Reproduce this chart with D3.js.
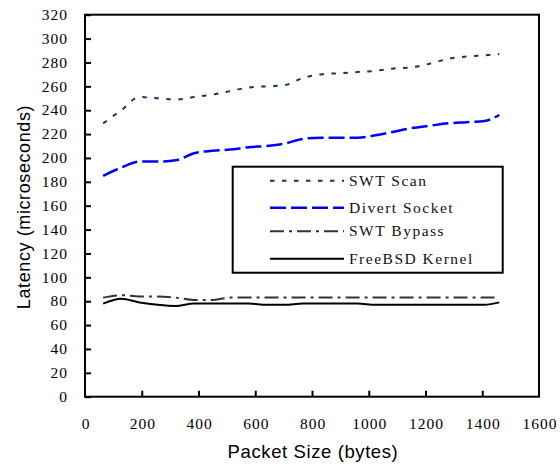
<!DOCTYPE html>
<html>
<head>
<meta charset="utf-8">
<script src="https://cdn.jsdelivr.net/npm/d3@7"></script>
<style>
  html, body { margin: 0; padding: 0; background: #fff; }
  svg { display: block; }
</style>
</head>
<body>
<div id="chart"></div>
<script>
// Packet sizes (bytes) at which latency was measured
const packetSizes = [64, 128, 192, 256, 320, 384, 448, 512, 576, 640, 704, 768,
  832, 896, 960, 1024, 1088, 1152, 1216, 1280, 1344, 1408, 1460];

const swtScan = [229, 240, 251, 250, 249, 251, 253, 256, 259, 260, 261, 267,
  270, 271, 272, 273, 275, 276, 279, 283, 285, 286, 287];
const divertSocket = [185, 192, 197, 197, 198, 204, 206, 207, 209, 210, 212, 216,
  217, 217, 217, 219, 222, 225, 227, 229, 230, 231, 236];
const swtBypass = [83, 85, 84, 84, 83, 81, 81, 83, 83, 83, 83, 83,
  83, 83, 83, 83, 83, 83, 83, 83, 83, 83, 83];
const freebsdKernel = [78, 82, 79, 77, 76, 78, 78, 78, 78, 77, 77, 78,
  78, 78, 78, 77, 77, 77, 77, 77, 77, 77, 79];

const seriesNames = ["SWT Scan", "Divert Socket", "SWT Bypass", "FreeBSD Kernel"];
const xTicks = [0, 200, 400, 600, 800, 1000, 1200, 1400, 1600];
const yTicks = d3.range(0, 321, 20);

const styles = {
  "SWT Scan":       { color: "#13375e", width: 2,   dash: "4.5,7.5" },
  "Divert Socket":  { color: "#0000ff", width: 2.5, dash: "16,5" },
  "SWT Bypass":     { color: "#333333", width: 2,   dash: "14,5,3,5" },
  "FreeBSD Kernel": { color: "#000000", width: 2,   dash: null }
};

const series = [swtScan, divertSocket, swtBypass, freebsdKernel].map((vals, i) => ({
  name: seriesNames[i],
  points: vals.map((v, j) => ({ x: packetSizes[j], y: v }))
}));

const width = 560, height = 468;
const svg = d3.select("#chart").append("svg")
  .attr("width", width)
  .attr("height", height);

const x = d3.scaleLinear().domain([0, 1600]).range([85, 539]);
const y = d3.scaleLinear().domain([0, 320]).range([396.7, 14.7]);

const serif = "'Liberation Serif', 'Times New Roman', serif";
const sans = "'Liberation Sans', Arial, sans-serif";

// Y axis: ticks point inward
const yAxis = svg.append("g")
  .attr("transform", `translate(${x(0)},0)`)
  .call(d3.axisRight(y).tickValues(yTicks).tickSize(6).tickFormat(""));
yAxis.select(".domain").remove();
yAxis.selectAll("line").attr("stroke", "#000").attr("stroke-width", 2);

svg.append("g").selectAll("text")
  .data(yTicks)
  .enter()
  .append("text")
  .attr("x", 68)
  .attr("y", d => y(d))
  .attr("dy", "0.34em")
  .attr("text-anchor", "end")
  .attr("font-family", serif)
  .attr("font-size", 15.5)
  .attr("letter-spacing", 1)
  .text(d => d);

// X axis: ticks point inward
const xAxis = svg.append("g")
  .attr("transform", `translate(0,${y(0)})`)
  .call(d3.axisTop(x).tickValues(xTicks.slice(1, -1)).tickSize(6).tickFormat(""));
xAxis.select(".domain").remove();
xAxis.selectAll("line").attr("stroke", "#000").attr("stroke-width", 2);

svg.append("g").selectAll("text")
  .data(xTicks)
  .enter()
  .append("text")
  .attr("x", d => x(d) + 1)
  .attr("y", 429)
  .attr("text-anchor", "middle")
  .attr("font-family", serif)
  .attr("font-size", 15.5)
  .attr("letter-spacing", 1)
  .text(d => d);

// Plot frame
svg.append("rect")
  .attr("x", x(0))
  .attr("y", y(320))
  .attr("width", x(1600) - x(0))
  .attr("height", y(0) - y(320))
  .attr("fill", "none")
  .attr("stroke", "#000")
  .attr("stroke-width", 2);

// Lines
const line = d3.line()
  .x(d => x(d.x))
  .y(d => y(d.y))
  .curve(d3.curveMonotoneX);

svg.append("g").selectAll("path")
  .data(series)
  .enter()
  .append("path")
  .attr("d", d => line(d.points))
  .attr("fill", "none")
  .attr("stroke", d => styles[d.name].color)
  .attr("stroke-width", d => styles[d.name].width)
  .attr("stroke-dasharray", d => styles[d.name].dash);

// Legend
const legend = svg.append("g");
legend.append("rect")
  .attr("x", 232.7)
  .attr("y", 166.7)
  .attr("width", 270)
  .attr("height", 106)
  .attr("fill", "#fff")
  .attr("stroke", "#000")
  .attr("stroke-width", 2);

const legendRows = [180.7, 207.7, 231.3, 258.7];
const items = legend.selectAll(".item")
  .data(series)
  .enter()
  .append("g")
  .attr("transform", (d, i) => `translate(0,${legendRows[i]})`);

items.append("line")
  .attr("x1", 270)
  .attr("x2", 344)
  .attr("stroke", d => styles[d.name].color)
  .attr("stroke-width", d => styles[d.name].width)
  .attr("stroke-dasharray", d => styles[d.name].dash);

items.append("text")
  .attr("x", 349)
  .attr("dy", "0.33em")
  .attr("font-family", serif)
  .attr("font-size", 15.5)
  .attr("letter-spacing", 1.5)
  .attr("fill", "#111")
  .text(d => d.name);

// Axis titles
svg.append("text")
  .attr("x", 313)
  .attr("y", 458)
  .attr("text-anchor", "middle")
  .attr("font-family", sans)
  .attr("font-size", 18.5)
  .attr("letter-spacing", 0.6)
  .text("Packet Size (bytes)");

svg.append("text")
  .attr("transform", "translate(30,207) rotate(-90)")
  .attr("text-anchor", "middle")
  .attr("font-family", sans)
  .attr("font-size", 18)
  .attr("letter-spacing", 0.6)
  .text("Latency (microseconds)");
</script>
</body>
</html>
